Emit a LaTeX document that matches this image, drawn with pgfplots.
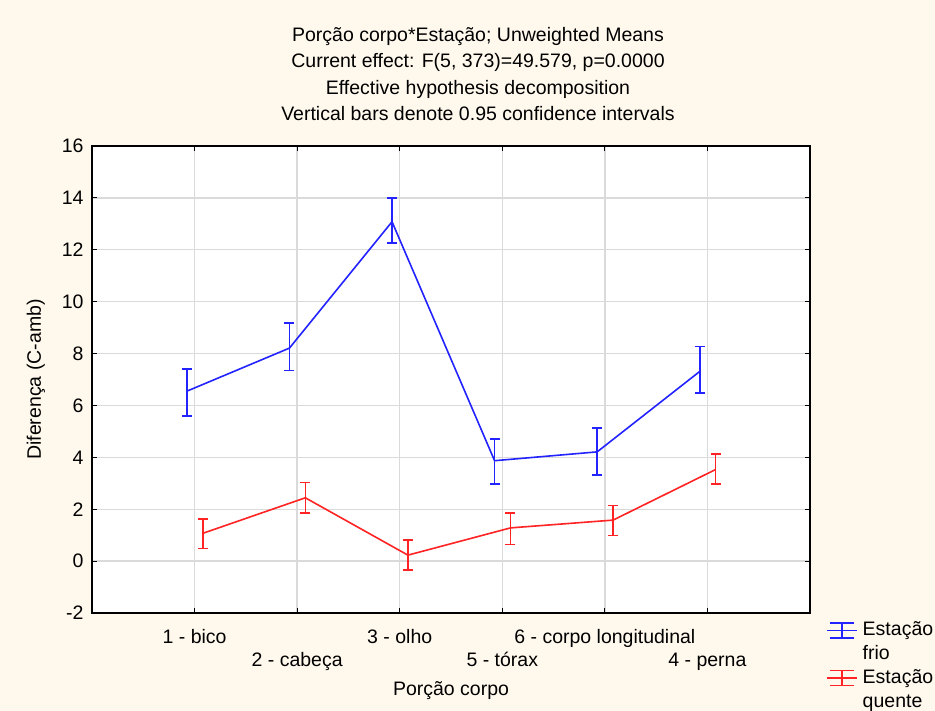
\documentclass[border=0pt]{standalone}
\usepackage{pgfplots}
\usepackage{pgfplotstable}
\pgfplotsset{compat=1.18}
\usepackage{fontspec}
\setmainfont{Liberation Sans}

\definecolor{bgcream}{RGB}{255,249,237}
\definecolor{gridgray}{RGB}{218,218,218}
\definecolor{sblue}{RGB}{35,35,255}
\definecolor{sred}{RGB}{255,35,35}

% x = category position (shifted per season), y = mean, hi/lo = 0.95 CI limits
\pgfplotstableread{
x      y      hi     lo
0.925  6.55   7.40   5.60
1.925  8.21   9.17   7.35
2.925  13.08  14.00  12.25
3.925  3.87   4.71   2.98
4.925  4.21   5.13   3.32
5.925  7.31   8.27   6.48
}\frio

\pgfplotstableread{
x      y      hi     lo
1.08   1.07   1.63   0.48
2.08   2.44   3.03   1.86
3.08   0.23   0.81   -0.35
4.08   1.28   1.86   0.64
5.08   1.58   2.15   0.99
6.08   3.53   4.13   2.98
}\quente

\newcommand{\lblfont}{\fontsize{19.5}{24}\selectfont}

% legend symbol: a line crossed by a small error bar
\newcommand{\cisymbol}[1]{%
  \draw[#1, line width=1.6pt] (0pt,11pt) -- (30pt,11pt);
  \draw[#1, line width=1.6pt] (3pt,18.5pt) -- (27pt,18.5pt);
  \draw[#1, line width=1.6pt] (3pt,3.5pt) -- (27pt,3.5pt);
  \draw[#1, line width=1.6pt] (15pt,3.5pt) -- (15pt,18.5pt);}

\begin{document}
\begin{tikzpicture}[x=1pt,y=1pt]
\fill[bgcream] (0,0) rectangle (935,711);

\node[anchor=base, font=\lblfont] at (478,669) {Porção corpo*Estação; Unweighted Means};
\node[anchor=base, font=\lblfont] at (478,643) {Current effect: F(5, 373)=49.579, p=0.0000};
\node[anchor=base, font=\lblfont] at (478,616.5) {Effective hypothesis decomposition};
\node[anchor=base, font=\lblfont] at (478,590) {Vertical bars denote 0.95 confidence intervals};

\begin{axis}[
  at={(92pt,98pt)}, anchor=south west,
  scale only axis, width=718pt, height=467pt,
  xmin=0, xmax=7, ymin=-2, ymax=16,
  axis background/.style={fill=white},
  axis line style={black, line width=1.4pt},
  grid=major, major grid style={gridgray, line width=1.3pt},
  tick align=inside, tick pos=both, major tick length=5pt,
  every tick/.style={black, line width=1.2pt},
  xtick={1,...,6}, ytick={-2,0,...,16},
  yticklabels={-2,0,2,4,6,8,10,12,14,16},
  xticklabels={1 - bico, \raisebox{-23pt}{2 - cabeça}, 3 - olho,
    \raisebox{-23pt}{5 - tórax}, 6 - corpo longitudinal,
    \raisebox{-23pt}{4 - perna}},
  tick label style={font=\lblfont},
  xticklabel style={anchor=base, yshift=-31pt},
  yticklabel style={xshift=-5pt},
  xlabel={Porção corpo}, ylabel={Diferença (C-amb)},
  every axis x label/.style={at={(axis description cs:0.5,-0.167)}, anchor=center, font=\lblfont},
  every axis y label/.style={at={(axis description cs:-0.078,0.5)}, rotate=90, anchor=center, font=\lblfont},
  legend style={at={(axis description cs:1.018,-0.012)}, anchor=north west,
    draw=none, fill=none, font=\lblfont,
    nodes={align=left, inner sep=1pt},
    row sep=6pt, column sep=4pt},
  legend cell align=left,
]
\addplot[sblue, line width=1.6pt,
  legend image code/.code={\cisymbol{sblue}},
  error bars/.cd, y dir=both, y explicit,
  error bar style={line width=1.6pt, sblue},
  error mark options={rotate=90, mark size=5pt, line width=1.6pt, sblue}]
  table[x=x, y=y, y error plus expr={\thisrow{hi}-\thisrow{y}},
        y error minus expr={\thisrow{y}-\thisrow{lo}}] {\frio};
\addlegendentry{Estação\\frio}

\addplot[sred, line width=1.6pt,
  legend image code/.code={\cisymbol{sred}},
  error bars/.cd, y dir=both, y explicit,
  error bar style={line width=1.6pt, sred},
  error mark options={rotate=90, mark size=5pt, line width=1.6pt, sred}]
  table[x=x, y=y, y error plus expr={\thisrow{hi}-\thisrow{y}},
        y error minus expr={\thisrow{y}-\thisrow{lo}}] {\quente};
\addlegendentry{Estação\\quente}
\end{axis}

\pgfresetboundingbox
\useasboundingbox (0,0) rectangle (935,711);
\end{tikzpicture}
\end{document}
